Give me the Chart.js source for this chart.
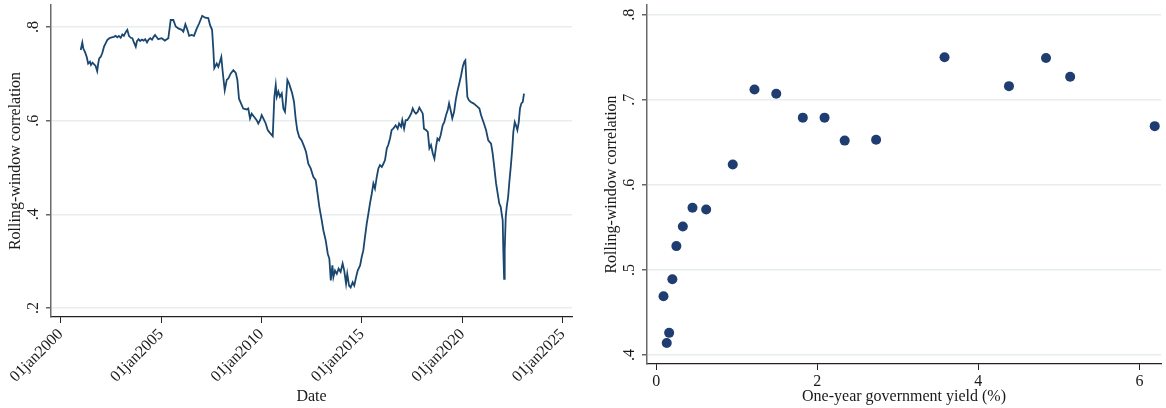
<!DOCTYPE html>
<html lang="en">
<head>
    <meta charset="utf-8">
    <!-- Include Chart.js -->
    <script src="https://cdn.jsdelivr.net/npm/chart.js"></script>
    <style>
        body { margin: 0; background: #ffffff; }
        .panel { position: absolute; top: 0; }
        #lineChart { left: 0; }
        #scatterChart { left: 583px; }
    </style>
</head>
<body>
    <canvas id="lineChart" class="panel" width="583" height="408"></canvas>
    <canvas id="scatterChart" class="panel" width="583" height="408"></canvas>
    <script>
        // Left panel: rolling-window correlation over time (decimal years)
        const lineYears = [
            2001.00, 2001.08, 2001.13, 2001.21, 2001.30, 2001.37, 2001.46, 2001.51, 2001.59, 2001.67,
            2001.74, 2001.82, 2001.87, 2001.92, 2001.99, 2002.07, 2002.16, 2002.24, 2002.32, 2002.42,
            2002.54, 2002.65, 2002.74, 2002.82, 2002.90, 2002.99, 2003.07, 2003.15, 2003.24, 2003.32,
            2003.40, 2003.49, 2003.57, 2003.65, 2003.74, 2003.80, 2003.88, 2003.96, 2004.05, 2004.13,
            2004.21, 2004.30, 2004.38, 2004.46, 2004.55, 2004.63, 2004.70, 2004.86, 2005.03, 2005.19,
            2005.36, 2005.48, 2005.61, 2005.73, 2005.86, 2006.03, 2006.11, 2006.21, 2006.31, 2006.40,
            2006.52, 2006.64, 2006.77, 2006.90, 2007.05, 2007.19, 2007.35, 2007.44, 2007.54, 2007.60,
            2007.65, 2007.77, 2007.85, 2007.93, 2008.00, 2008.07, 2008.17, 2008.27, 2008.35, 2008.47,
            2008.60, 2008.72, 2008.80, 2008.88, 2008.98, 2009.09, 2009.26, 2009.34, 2009.43, 2009.51,
            2009.64, 2009.76, 2009.84, 2009.93, 2010.01, 2010.09, 2010.21, 2010.31, 2010.42, 2010.56,
            2010.64, 2010.71, 2010.76, 2010.84, 2010.92, 2011.01, 2011.09, 2011.17, 2011.22, 2011.29,
            2011.37, 2011.45, 2011.53, 2011.62, 2011.70, 2011.78, 2011.88, 2012.00, 2012.13, 2012.22,
            2012.33, 2012.45, 2012.58, 2012.70, 2012.78, 2012.88, 2013.00, 2013.08, 2013.20, 2013.30,
            2013.38, 2013.45, 2013.53, 2013.58, 2013.66, 2013.75, 2013.84, 2013.94, 2014.04, 2014.12,
            2014.21, 2014.27, 2014.36, 2014.44, 2014.54, 2014.62, 2014.71, 2014.79, 2014.91, 2014.99,
            2015.07, 2015.15, 2015.24, 2015.32, 2015.40, 2015.49, 2015.57, 2015.65, 2015.74, 2015.82,
            2015.90, 2015.99, 2016.07, 2016.15, 2016.24, 2016.31, 2016.40, 2016.48, 2016.56, 2016.68,
            2016.78, 2016.85, 2016.95, 2017.01, 2017.10, 2017.18, 2017.26, 2017.36, 2017.45, 2017.53,
            2017.61, 2017.69, 2017.78, 2017.86, 2017.94, 2018.03, 2018.09, 2018.19, 2018.28, 2018.36,
            2018.44, 2018.53, 2018.61, 2018.69, 2018.76, 2018.84, 2018.92, 2019.02, 2019.10, 2019.19,
            2019.27, 2019.34, 2019.42, 2019.50, 2019.59, 2019.67, 2019.75, 2019.85, 2019.94, 2020.02,
            2020.10, 2020.15, 2020.20, 2020.25, 2020.32, 2020.42, 2020.55, 2020.72, 2020.85, 2020.93,
            2021.05, 2021.18, 2021.29, 2021.43, 2021.51, 2021.59, 2021.68, 2021.76, 2021.84, 2021.91,
            2021.96, 2022.01, 2022.04, 2022.08, 2022.11, 2022.16, 2022.21, 2022.28, 2022.34, 2022.41,
            2022.48, 2022.54, 2022.61, 2022.67, 2022.74, 2022.81, 2022.87, 2022.94, 2023.01, 2023.07
        ];
        const lineCorr = [
            0.751, 0.767, 0.754, 0.747, 0.736, 0.722, 0.726, 0.719, 0.724, 0.720,
            0.717, 0.706, 0.722, 0.733, 0.736, 0.744, 0.758, 0.765, 0.772, 0.776,
            0.778, 0.779, 0.781, 0.778, 0.781, 0.777, 0.784, 0.781, 0.789, 0.794,
            0.781, 0.777, 0.776, 0.767, 0.758, 0.770, 0.774, 0.770, 0.773, 0.771,
            0.774, 0.767, 0.773, 0.776, 0.773, 0.779, 0.783, 0.774, 0.776, 0.771,
            0.776, 0.815, 0.815, 0.801, 0.797, 0.794, 0.790, 0.806, 0.794, 0.781,
            0.783, 0.781, 0.796, 0.808, 0.824, 0.820, 0.819, 0.804, 0.794, 0.754,
            0.712, 0.722, 0.715, 0.726, 0.736, 0.704, 0.665, 0.687, 0.690, 0.701,
            0.708, 0.702, 0.687, 0.647, 0.637, 0.626, 0.624, 0.626, 0.605, 0.615,
            0.608, 0.601, 0.594, 0.601, 0.612, 0.605, 0.594, 0.580, 0.574, 0.567,
            0.651, 0.676, 0.651, 0.662, 0.651, 0.658, 0.626, 0.619, 0.644, 0.687,
            0.680, 0.669, 0.658, 0.640, 0.605, 0.580, 0.565, 0.558, 0.544, 0.533,
            0.508, 0.498, 0.480, 0.473, 0.448, 0.416, 0.387, 0.366, 0.344, 0.316,
            0.305, 0.259, 0.291, 0.266, 0.280, 0.273, 0.284, 0.277, 0.295, 0.280,
            0.252, 0.273, 0.248, 0.244, 0.255, 0.248, 0.266, 0.280, 0.291, 0.309,
            0.323, 0.351, 0.380, 0.401, 0.423, 0.444, 0.466, 0.455, 0.480, 0.498,
            0.505, 0.501, 0.508, 0.516, 0.541, 0.548, 0.562, 0.580, 0.583, 0.590,
            0.583, 0.594, 0.587, 0.601, 0.583, 0.601, 0.601, 0.608, 0.615, 0.626,
            0.619, 0.615, 0.619, 0.628, 0.622, 0.615, 0.583, 0.580, 0.576, 0.541,
            0.548, 0.530, 0.519, 0.544, 0.562, 0.558, 0.569, 0.590, 0.597, 0.612,
            0.622, 0.637, 0.622, 0.605, 0.619, 0.644, 0.662, 0.680, 0.697, 0.715,
            0.726, 0.729, 0.687, 0.651, 0.644, 0.640, 0.637, 0.631, 0.626, 0.612,
            0.597, 0.580, 0.558, 0.551, 0.530, 0.501, 0.466, 0.444, 0.423, 0.416,
            0.401, 0.387, 0.323, 0.262, 0.323, 0.394, 0.416, 0.437, 0.469, 0.501,
            0.537, 0.576, 0.597, 0.590, 0.580, 0.597, 0.626, 0.637, 0.640, 0.658
        ];
        const leftXTicks = [2000, 2005, 2010, 2015, 2020, 2025];
        const leftYTicks = [0.2, 0.4, 0.6, 0.8];

        // Right panel: correlation against one-year government yield
        const yieldPct = [0.09, 0.13, 0.16, 0.20, 0.25, 0.33, 0.45, 0.62, 0.95, 1.22,
                          1.49, 1.82, 2.09, 2.34, 2.73, 3.58, 4.38, 4.84, 5.14, 6.19];
        const yieldCorr = [0.469, 0.414, 0.426, 0.489, 0.528, 0.551, 0.573, 0.571, 0.624, 0.712,
                           0.707, 0.679, 0.679, 0.652, 0.653, 0.750, 0.716, 0.749, 0.727, 0.669];
        const rightXTicks = [0, 2, 4, 6];
        const rightYTicks = [0.4, 0.5, 0.6, 0.7, 0.8];

        const FONT = { family: '"Liberation Serif", "DejaVu Serif", serif', size: 16 };
        const TEXT = '#1a1a1a';
        const GRID = '#e8eeee';

        // give every axis a fixed thickness so the plot areas line up with the picture
        function fixedBox(size) {
            return function (scale) {
                if (scale.isHorizontal()) {
                    scale.height = size;
                } else {
                    scale.width = size;
                }
                scale.paddingTop = 0;
                scale.paddingBottom = 0;
                scale.paddingLeft = 0;
                scale.paddingRight = 0;
            };
        }

        function useTicks(values) {
            return function (scale) {
                scale.ticks = values.map(v => ({ value: v }));
            };
        }

        // Stata style: .8 instead of 0.8
        function shortDec(v) {
            return v.toFixed(1).replace(/^0/, '');
        }

        new Chart(document.getElementById('lineChart'), {
            type: 'line',
            data: {
                datasets: [{
                    data: lineYears.map((x, i) => ({ x: x, y: lineCorr[i] })),
                    borderColor: '#1a476f',
                    borderWidth: 1.8,
                    pointRadius: 0,
                    tension: 0
                }]
            },
            options: {
                responsive: false,
                animation: false,
                devicePixelRatio: 1,
                layout: { padding: { top: 5, right: 11, left: 0, bottom: 0 } },
                plugins: { legend: { display: false }, tooltip: { enabled: false } },
                scales: {
                    x: {
                        type: 'linear',
                        min: 1999.52,
                        max: 2025.46,
                        afterBuildTicks: useTicks(leftXTicks),
                        afterFit: fixedBox(91),
                        grid: { drawOnChartArea: false, tickLength: 6, tickColor: '#222' },
                        border: { color: '#222', width: 1.2 },
                        ticks: {
                            minRotation: 45, maxRotation: 45, padding: 2,
                            color: TEXT, font: FONT,
                            callback: v => '01jan' + v
                        },
                        title: { display: true, text: 'Date', color: TEXT, font: FONT, padding: { top: 0, bottom: 2 } }
                    },
                    y: {
                        min: 0.1808,
                        max: 0.847,
                        afterBuildTicks: useTicks(leftYTicks),
                        afterFit: fixedBox(51),
                        grid: { color: GRID, lineWidth: 1.5, tickLength: 5, tickColor: '#666' },
                        border: { color: '#6a6a6a', width: 1.5 },
                        ticks: {
                            minRotation: 90, maxRotation: 90, crossAlign: 'center', padding: 6,
                            color: TEXT, font: FONT, callback: shortDec
                        },
                        title: { display: true, text: 'Rolling-window correlation', color: TEXT, font: FONT, padding: { top: 6, bottom: 0 } }
                    }
                }
            }
        });

        new Chart(document.getElementById('scatterChart'), {
            type: 'scatter',
            data: {
                datasets: [{
                    data: yieldPct.map((x, i) => ({ x: x, y: yieldCorr[i] })),
                    backgroundColor: '#1f3d70',
                    borderWidth: 0,
                    pointRadius: 5
                }]
            },
            options: {
                responsive: false,
                animation: false,
                devicePixelRatio: 1,
                layout: { padding: { top: 5, right: 2, left: 0, bottom: 0 } },
                plugins: { legend: { display: false }, tooltip: { enabled: false } },
                scales: {
                    x: {
                        type: 'linear',
                        min: -0.115,
                        max: 6.268,
                        afterBuildTicks: useTicks(rightXTicks),
                        afterFit: fixedBox(44),
                        grid: { drawOnChartArea: false, tickLength: 6, tickColor: '#222' },
                        border: { color: '#222', width: 1.2 },
                        ticks: { maxRotation: 0, padding: 2, color: TEXT, font: FONT },
                        title: { display: true, text: 'One-year government yield (%)', color: TEXT, font: FONT, padding: { top: 0, bottom: 2 } }
                    },
                    y: {
                        min: 0.3894,
                        max: 0.8114,
                        afterBuildTicks: useTicks(rightYTicks),
                        afterFit: fixedBox(64),
                        grid: { color: GRID, lineWidth: 1.5, tickLength: 5, tickColor: '#666' },
                        border: { color: '#6a6a6a', width: 1.5 },
                        ticks: {
                            minRotation: 90, maxRotation: 90, crossAlign: 'center', padding: 6,
                            color: TEXT, font: FONT, callback: shortDec
                        },
                        title: { display: true, text: 'Rolling-window correlation', color: TEXT, font: FONT, padding: { top: 19, bottom: 0 } }
                    }
                }
            }
        });
    </script>
</body>
</html>
